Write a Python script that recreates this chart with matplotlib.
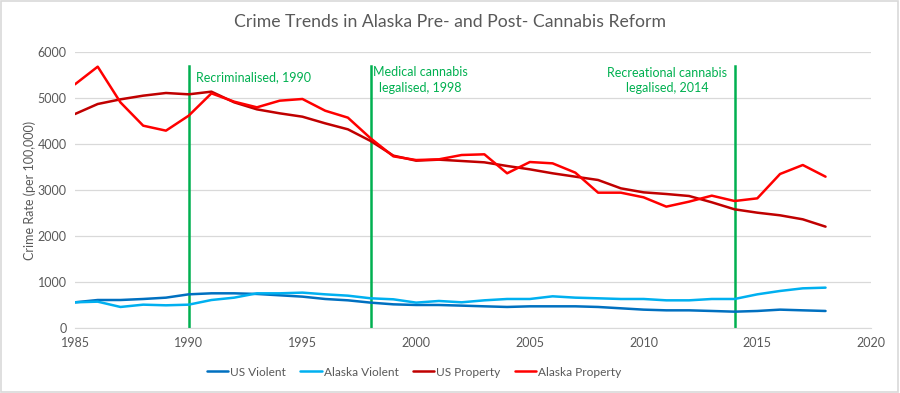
import matplotlib
matplotlib.use("Agg")
import matplotlib.pyplot as plt
from matplotlib.patches import Rectangle

plt.rcParams['font.family'] = ['Lato', 'DejaVu Sans']

years = list(range(1985, 2019))

us_violent = [564, 614, 614, 636, 665, 737, 759, 759, 745, 716, 687, 636, 607, 557, 520, 506,
              506, 492, 477, 463, 477, 477, 477, 463, 434, 405, 390, 390, 376, 361, 376, 405, 390, 376]
alaska_violent = [564, 578, 463, 513, 499, 513, 614, 665, 759, 759, 774, 737, 708, 651, 629, 557,
                  593, 564, 607, 636, 636, 694, 665, 651, 636, 636, 607, 607, 636, 636, 737, 810, 867, 882]
us_property = [4648, 4865, 4966, 5046, 5104, 5075, 5133, 4901, 4749, 4663, 4590, 4446, 4316, 4063, 3745, 3636,
               3658, 3629, 3600, 3521, 3448, 3362, 3289, 3217, 3036, 2949, 2913, 2870, 2733, 2581, 2508, 2451, 2364, 2205]
alaska_property = [5292, 5675, 4900, 4395, 4287, 4612, 5096, 4916, 4793, 4937, 4974, 4720, 4569, 4120, 3730, 3650,
                   3665, 3759, 3774, 3362, 3607, 3578, 3376, 2942, 2942, 2841, 2639, 2747, 2877, 2761, 2819, 3347, 3542, 3289]

series_names = ["US Violent", "Alaska Violent", "US Property", "Alaska Property"]
series_colors = ["#0070C0", "#00B0F0", "#C00000", "#FF0000"]

event_years = [1990, 1998, 2014]
event_labels = ["Recriminalised, 1990", "Medical cannabis\nlegalised, 1998", "Recreational cannabis\nlegalised, 2014"]
event_top = 5700

xticks = [1985, 1990, 1995, 2000, 2005, 2010, 2015, 2020]
yticks = [0, 1000, 2000, 3000, 4000, 5000, 6000]

fig = plt.figure(figsize=(9, 3.93), dpi=100)
ax = fig.add_axes([0.0833, 0.1646, 0.8845, 0.7039])

data = [us_violent, alaska_violent, us_property, alaska_property]
for vals, name, c in zip(data, series_names, series_colors):
    ax.plot(years, vals, color=c, lw=1.8, label=name, solid_capstyle='round', solid_joinstyle='round')

green = "#00B050"
for ey in event_years:
    ax.plot([ey, ey], [0, event_top], color=green, lw=1.8, zorder=1)

ax.text(1990.3, 5440, event_labels[0], color=green, fontsize=9, ha='left', va='center')
ax.text(2000.2, 5390, event_labels[1], color=green, fontsize=9, ha='center', va='center', linespacing=1.35)
ax.text(2011.05, 5370, event_labels[2], color=green, fontsize=9, ha='center', va='center', linespacing=1.35)

ax.set_xlim(1985, 2020)
ax.set_ylim(0, 6000)
ax.set_xticks(xticks)
ax.set_yticks(yticks)
ax.grid(axis='y', color='#D9D9D9', lw=0.9)
ax.set_axisbelow(True)
for s in ['top', 'right', 'left']:
    ax.spines[s].set_visible(False)
ax.spines['bottom'].set_color('#D9D9D9')
ax.tick_params(length=0, labelsize=9, colors='#595959', pad=6)
ax.set_ylabel("Crime Rate (per 100,000)", fontsize=9, color='#595959', labelpad=1)

fig.suptitle("Crime Trends in Alaska Pre- and Post- Cannabis Reform", x=0.5, y=0.965,
             fontsize=12.7, color='#595959')

leg = fig.legend(loc='center', bbox_to_anchor=(0.46, 0.053), ncol=4, frameon=False,
                 fontsize=8.6, handlelength=1.8, handletextpad=0.15, columnspacing=1.2)
for t in leg.get_texts():
    t.set_color('#595959')

fig.patches.append(Rectangle((0.001, 0.002), 0.997, 0.995, transform=fig.transFigure,
                             fill=False, edgecolor='#D9D9D9', lw=1.2))

fig.savefig("out.png", dpi=100)
